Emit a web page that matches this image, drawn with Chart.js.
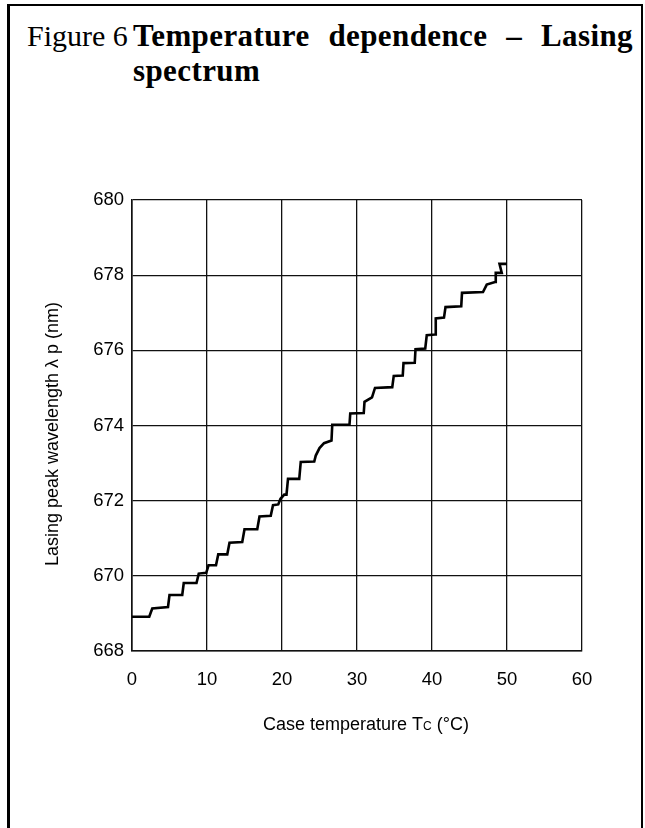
<!DOCTYPE html>
<html>
<head>
<meta charset="utf-8">
<script src="https://cdn.jsdelivr.net/npm/chart.js@4.4.0/dist/chart.umd.min.js"></script>
<style>
    body { margin: 0; background: #fff; }
    #page { position: relative; width: 645px; height: 828px; overflow: hidden; }
    #frame {
        position: absolute; left: 7px; top: 4px; width: 631px; height: 900px;
        border-left: 3px solid #000; border-top: 2px solid #000; border-right: 2px solid #000;
    }
    #fig-num {
        position: absolute; left: 27px; top: 18px;
        font: 30px "Liberation Serif", serif; color: #000; line-height: 35px;
    }
    #fig-title {
        position: absolute; left: 133px; top: 18px; width: 500px;
        font: bold 31px "Liberation Serif", serif; color: #000;
        text-align: justify; line-height: 35px; letter-spacing: 0.4px;
    }
    canvas { position: absolute; left: 0; top: 0; }
</style>
</head>
<body>
<div id="page">
    <div id="frame"></div>
    <div id="fig-num">Figure 6</div>
    <div id="fig-title">Temperature dependence – Lasing spectrum</div>
    <canvas id="tempChart" width="645" height="828"></canvas>
</div>
<script>
// case temperature (°C) and peak wavelength (nm)
const caseTemp = [
    0, 2.3, 2.7, 4.8, 5.0, 6.7, 6.9, 8.6, 8.9, 9.9,
    10.2, 11.2, 11.5, 12.7, 13.0, 14.7, 15.0, 16.7, 17.0, 18.5,
    18.8, 19.5, 19.8, 20.3, 20.6, 20.8, 22.3, 22.5, 24.3, 24.5,
    25.0, 25.6, 26.6, 26.7, 29.0, 29.1, 30.9, 31.0, 32.0, 32.4,
    34.7, 34.9, 36.1, 36.2, 37.7, 37.8, 39.1, 39.3, 40.4, 40.5,
    41.6, 41.8, 43.9, 44.0, 46.8, 47.3, 48.4, 48.5, 49.3, 49.0,
    50.0
];
const peakWavelength = [
    668.91, 668.91, 669.13, 669.17, 669.49, 669.49, 669.81, 669.81, 670.06, 670.08,
    670.28, 670.28, 670.57, 670.57, 670.88, 670.90, 671.24, 671.24, 671.58, 671.60,
    671.88, 671.90, 672.05, 672.16, 672.16, 672.58, 672.58, 673.03, 673.04, 673.20,
    673.40, 673.53, 673.60, 674.02, 674.02, 674.32, 674.33, 674.63, 674.75, 675.00,
    675.02, 675.32, 675.33, 675.66, 675.67, 676.03, 676.05, 676.40, 676.42, 676.85,
    676.87, 677.15, 677.17, 677.53, 677.55, 677.75, 677.82, 678.06, 678.06, 678.30,
    678.30
];

const xTicks = [0, 10, 20, 30, 40, 50, 60];
const yTicks = [668, 670, 672, 674, 676, 678, 680];

const points = caseTemp.map((t, i) => ({ x: t, y: peakWavelength[i] }));

const sans = '"Liberation Sans", Arial, sans-serif';
const tickFont = { family: sans, size: 18.5 };

// axis titles drawn by hand (the "C" in Tc is small)
const axisTitles = {
    id: 'axisTitles',
    afterDraw(chart) {
        const ctx = chart.ctx;
        const area = chart.chartArea;
        ctx.save();
        ctx.fillStyle = '#000';

        // y title, rotated
        ctx.font = '18px ' + sans;
        ctx.textAlign = 'center';
        ctx.textBaseline = 'middle';
        ctx.translate(53, 434);
        ctx.rotate(-Math.PI / 2);
        ctx.fillText('Lasing peak wavelength λ p (nm)', 0, 0);
        ctx.setTransform(1, 0, 0, 1, 0, 0);

        // x title
        const parts = [
            { text: 'Case temperature T', size: 18 },
            { text: 'C', size: 12 },
            { text: ' (°C)', size: 18 }
        ];
        ctx.textAlign = 'left';
        ctx.textBaseline = 'alphabetic';
        let total = 0;
        parts.forEach(p => {
            ctx.font = p.size + 'px ' + sans;
            p.w = ctx.measureText(p.text).width;
            total += p.w;
        });
        let x = (area.left + area.right) / 2 + 9 - total / 2;
        parts.forEach(p => {
            ctx.font = p.size + 'px ' + sans;
            ctx.fillText(p.text, x, 730);
            x += p.w;
        });
        ctx.restore();
    }
};

new Chart(document.getElementById('tempChart'), {
    type: 'scatter',
    data: {
        datasets: [{
            data: points,
            showLine: true,
            borderColor: '#000',
            borderWidth: 2.6,
            pointRadius: 0,
            tension: 0
        }]
    },
    options: {
        responsive: false,
        animation: false,
        events: [],
        layout: { padding: { left: 38, top: 200, right: 63, bottom: 137 } },
        plugins: { legend: { display: false }, tooltip: { enabled: false } },
        scales: {
            x: {
                type: 'linear',
                min: 0, max: 60,
                afterFit: s => { s.height = 40; },
                afterBuildTicks: s => { s.ticks = xTicks.map(v => ({ value: v })); },
                grid: { color: '#111', lineWidth: 1.3, drawTicks: false },
                border: { color: '#111', width: 1.6 },
                ticks: { color: '#000', font: tickFont, padding: 18, maxRotation: 0 }
            },
            y: {
                type: 'linear',
                min: 668, max: 680,
                afterFit: s => { s.width = 94; },
                afterBuildTicks: s => { s.ticks = yTicks.map(v => ({ value: v })); },
                grid: { color: '#111', lineWidth: 1.3, drawTicks: false },
                border: { color: '#111', width: 1.6 },
                ticks: { color: '#000', font: tickFont, padding: 8 }
            }
        }
    },
    plugins: [axisTitles]
});
</script>
</body>
</html>
